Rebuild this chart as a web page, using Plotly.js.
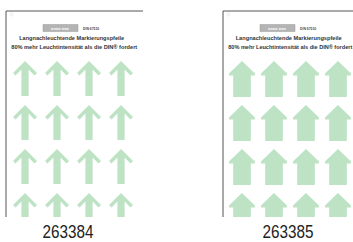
<!DOCTYPE html>
<html><head><meta charset="utf-8">
<script src="https://cdn.plot.ly/plotly-3.0.1.min.js"></script>
<style>html,body{margin:0;padding:0;background:#fff}#c{width:353px;height:242px}</style>
</head><body><div id="c"></div>
<script>
// ---- data ----
const productCodes = ['263384', '263385'];
const arrowStyles = ['schmal', 'breit'];
const arrowColumns = [1, 2, 3, 4];
const arrowRows = [1, 2, 3, 4];
const headerLine1 = 'Langnachleuchtende Markierungspfeile';
const headerLine2 = '80% mehr Leuchtintensität als die DIN® fordert';
const standardLabel = 'DIN 67510';

// ---- geometry / style ----
const W = 353, H = 242, plotH = 217;
const sheetLeft = [6, 223];
const sheetRight = [143, 353];
const firstArrowX = [25, 242];
const colStep = 32, firstRowTop = 61, rowStep = 44;
const green = '#bde3c4';
const shapesByStyle = {
  schmal: [[0,0],[12,12],[9.5,14.5],[3.6,8.6],[3.6,35],[-3.6,35],[-3.6,8.6],[-9.5,14.5],[-12,12],[0,0]],
  breit:  [[0,0],[13,12.5],[13,14.5],[8.8,14.5],[8.8,36],[-8.8,36],[-8.8,14.5],[-13,14.5],[-13,12.5],[0,0]]
};
// header placement per panel: [line1 center, line1 width, line2 center, line2 width, logo left, label center]
const headerGeom = [
  [71.5, 105, 74, 126, 43, 67.5],
  [288, 106, 290, 124, 260, 287.5]
];
const FONT = 'Liberation Sans, Arial, sans-serif';

const traces = [];
const shapes = [];
const annotations = [];
const fitWidths = [];
productCodes.forEach((code, p) => {
  const xs = [], ys = [];
  const poly = shapesByStyle[arrowStyles[p]];
  arrowRows.forEach(r => {
    arrowColumns.forEach(c => {
      const cx = firstArrowX[p] + (c - 1) * colStep;
      const top = firstRowTop + (r - 1) * rowStep;
      poly.forEach(([dx, dy]) => { xs.push(cx + dx); ys.push(top + dy); });
      xs.push(null); ys.push(null);
    });
  });
  traces.push({type: 'scatter', mode: 'lines', x: xs, y: ys, fill: 'toself',
    fillcolor: green, line: {width: 0, color: green}, hoverinfo: 'skip', showlegend: false});

  const l = sheetLeft[p], rgt = sheetRight[p];
  const g = headerGeom[p];
  shapes.push({type: 'line', xref: 'x', yref: 'y', x0: l, x1: rgt, y0: 11, y1: 11, line: {color: '#555', width: 1}});
  shapes.push({type: 'line', xref: 'x', yref: 'y', x0: l, x1: l, y0: 11, y1: plotH, line: {color: '#555', width: 1}});
  shapes.push({type: 'circle', xref: 'x', yref: 'y', x0: l + 4, x1: l + 7, y0: 13, y1: 16, line: {color: '#ddd', width: 0.6}});
  const logoL = g[4];
  shapes.push({type: 'rect', xref: 'x', yref: 'y', x0: logoL, x1: logoL + 35, y0: 24.5, y1: 31.5,
    fillcolor: '#b4b4b4', line: {color: '#9a9a9a', width: 0.5}});
  annotations.push({xref: 'x', yref: 'y', x: logoL + 17.5, y: 28, text: '<i><b>■■■■ ■■■</b></i>', showarrow: false,
    font: {family: FONT, size: 4, color: '#e8e8e8'}});
  annotations.push({xref: 'x', yref: 'y', x: logoL + 38, y: 29, text: '<b>' + standardLabel + '</b>', showarrow: false,
    xanchor: 'left', font: {family: FONT, size: 3.4, color: '#444'}});
  annotations.push({xref: 'x', yref: 'y', x: g[0], y: 38, text: '<b>' + headerLine1 + '</b>', showarrow: false,
    font: {family: FONT, size: 5.6, color: '#333'}});
  fitWidths.push(g[1]);
  annotations.push({xref: 'x', yref: 'y', x: g[2], y: 46.5, text: '<b>' + headerLine2 + '</b>', showarrow: false,
    font: {family: FONT, size: 5.4, color: '#333'}});
  fitWidths.push(g[3]);
  annotations.push({xref: 'x', yref: 'paper', x: g[5], y: (plotH - 232) / plotH,
    text: code, showarrow: false, yanchor: 'middle',
    font: {family: FONT, size: 18, color: '#222'}});
  fitWidths.push(51);
});

const layout = {
  width: W, height: H, margin: {l: 0, r: 0, t: 0, b: H - plotH, pad: 0},
  paper_bgcolor: '#fff', plot_bgcolor: '#fff', showlegend: false,
  xaxis: {range: [0, W], visible: false, fixedrange: true},
  yaxis: {range: [plotH, 0], visible: false, fixedrange: true},
  shapes: shapes, annotations: annotations
};
Plotly.newPlot('c', traces, layout, {staticPlot: true, displayModeBar: false}).then(gd => {
  // condense header lines and product codes to the widths seen in the photo
  const texts = gd.querySelectorAll('.annotation-text');
  let k = 0;
  texts.forEach((t, i) => {
    if (i % 5 >= 2) {
      t.setAttribute('textLength', fitWidths[k]);
      t.setAttribute('lengthAdjust', 'spacingAndGlyphs');
      k++;
    }
  });
});
</script></body></html>
